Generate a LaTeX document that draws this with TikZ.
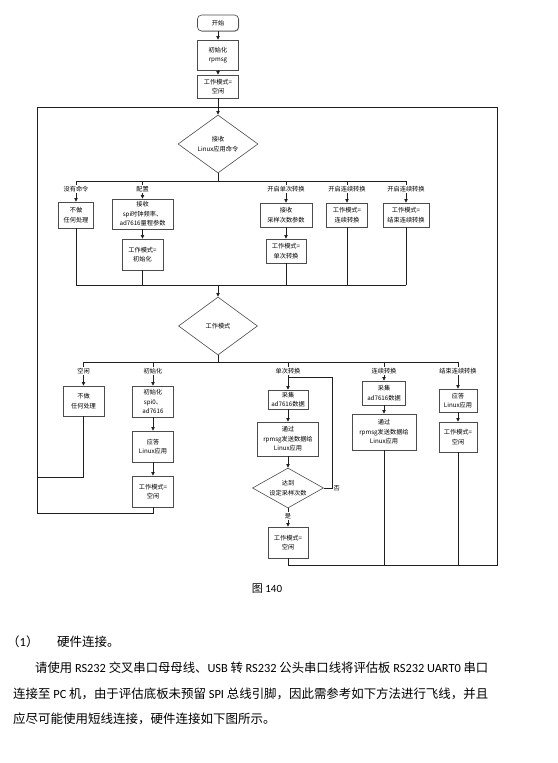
\documentclass[tikz,border=0pt]{standalone}
\usepackage{fontspec}
\usepackage{graphicx}
\newfontfamily\cjk{Noto Sans CJK SC}
\newfontfamily\lat{Carlito}
\usetikzlibrary{shapes.geometric,arrows.meta,shadows}
\begin{document}
\begin{tikzpicture}[x=1pt,y=-1pt,
  every node/.style={font=\cjk\fontsize{6.2}{9.6}\selectfont, align=center, inner sep=0pt},
  box/.style={draw=black!70, line width=0.6pt, fill=white,
    drop shadow={shadow xshift=0.6pt,shadow yshift=-0.6pt,fill=black!45,opacity=1}},
  dia/.style={diamond, draw=black!70, line width=0.6pt, fill=white, inner sep=0pt},
  lbl/.style={fill=white, inner sep=0.8pt},
  conn/.style={draw=black!88, line width=0.7pt},
  arr/.style={conn, -{Triangle[length=3.6pt,width=3.4pt]}},
  para/.style={font=\cjk\fontsize{12.5}{15}\selectfont, anchor=base west, inner sep=0pt},
]
\useasboundingbox[fill=white] (0,0) rectangle (557,763);

% ---------- top ----------
\node[box, minimum width=41pt, minimum height=16pt, rounded corners=4pt] (start) at (218,23) {开始};
\node[box, minimum width=41pt, minimum height=30pt] (init) at (218,55) {初始化\\rpmsg};
\node[box, minimum width=41pt, minimum height=23pt] (idle0) at (218,86.5) {工作模式=\\空闲};
\node[dia, minimum width=80pt, minimum height=58pt, aspect=1.38] (d1) at (218,144) {接收\\Linux应用命令};

% ---------- row 1 ----------
\node[box, minimum width=35pt, minimum height=26pt] (n1a) at (76,215) {不做\\任何处理};
\node[box, minimum width=61pt, minimum height=30pt] (n1b) at (142.5,214) {接收\\spi时钟频率、\\ad7616量程参数};
\node[box, minimum width=41pt, minimum height=31pt] (n1b2) at (142.5,254.5) {工作模式=\\初始化};
\node[box, minimum width=52pt, minimum height=24pt] (n1c) at (286,215) {接收\\采样次数参数};
\node[box, minimum width=40pt, minimum height=24pt] (n1c2) at (286,251) {工作模式=\\单次转换};
\node[box, minimum width=41pt, minimum height=24pt] (n1d) at (347,215) {工作模式=\\连续转换};
\node[box, minimum width=46pt, minimum height=24pt] (n1e) at (406,215) {工作模式=\\结束连续转换};

\node[dia, minimum width=79pt, minimum height=58pt, aspect=1.36] (d2) at (218,326) {工作模式};

% ---------- row 2 ----------
\node[box, minimum width=41pt, minimum height=30pt] (m1) at (83.5,401) {不做\\任何处理};
\node[box, minimum width=41pt, minimum height=31pt] (m2) at (153,401.5) {初始化\\spi0、\\ad7616};
\node[box, minimum width=41pt, minimum height=31pt] (m3) at (153,446.5) {应答\\Linux应用};
\node[box, minimum width=41pt, minimum height=31pt] (m4) at (153,491.5) {工作模式=\\空闲};

\node[box, minimum width=40pt, minimum height=19pt] (s1) at (288,399.5) {采集\\ad7616数据};
\node[box, minimum width=61pt, minimum height=34pt] (s2) at (288,439) {通过\\rpmsg发送数据给\\Linux应用};
\node[dia, minimum width=71pt, minimum height=40pt, aspect=1.775] (s3) at (288,488) {达到\\设定采样次数};
\node[box, minimum width=40pt, minimum height=31pt] (s4) at (288,542.5) {工作模式=\\空闲};

\node[box, minimum width=43pt, minimum height=24pt] (c1) at (384,393) {采集\\ad7616数据};
\node[box, minimum width=64pt, minimum height=36pt] (c2) at (384,432) {通过\\rpmsg发送数据给\\Linux应用};

\node[box, minimum width=38pt, minimum height=23pt] (e1) at (458,400.5) {应答\\Linux应用};
\node[box, minimum width=38pt, minimum height=30pt] (e2) at (458,437) {工作模式=\\空闲};

% ---------- coordinates ----------
\coordinate (j1) at (218,181);
\coordinate (lab1) at (0,189);
\coordinate (j2) at (218,285);
\coordinate (j3) at (218,362);
\coordinate (lab2) at (0,371);
\coordinate (nl) at (332,377);
\coordinate (LT) at (37,107);
\coordinate (RT) at (497,107);
\coordinate (LM) at (37,477);
\coordinate (LB) at (37,513);
\coordinate (RB) at (497,565);

% ---------- connectors ----------
\draw[arr] (start) -- (init);
\draw[arr] (init) -- (idle0);
\draw[arr] (idle0) -- (d1);

\draw[conn] (d1.south) -- (j1);
\draw[conn] (n1a |- j1) -- (n1e |- j1);
\foreach \b in {n1a,n1b,n1c,n1d,n1e} { \draw[arr] (\b |- j1) -- (\b.north); }
\draw[arr] (n1b) -- (n1b2);
\draw[arr] (n1c) -- (n1c2);

\draw[conn] (n1a |- j2) -- (n1e |- j2);
\foreach \b in {n1a,n1b2,n1c2,n1d,n1e} { \draw[conn] (\b.south) -- (\b |- j2); }
\draw[arr] (j2) -- (d2.north);

\draw[conn] (d2.south) -- (j3);
\draw[conn] (m1 |- j3) -- (e1 |- j3);
\foreach \b in {m1,m2,s1,c1,e1} { \draw[arr] (\b |- j3) -- (\b.north); }
\draw[arr] (m2) -- (m3);
\draw[arr] (m3) -- (m4);
\draw[arr] (s1) -- (s2);
\draw[arr] (s2) -- (s3);
\draw[arr] (s3) -- (s4);
\draw[arr] (c1) -- (c2);
\draw[arr] (e1) -- (e2);

\draw[conn] (s3.east) -| (nl) -- (s1 |- nl);

\draw[conn] (m1.south) |- (LM);
\draw[conn] (m4.south) |- (LB) -- (LT) -- (RT) -- (RB) -- (s4.south |- RB) -- (s4.south);
\draw[conn] (c2.south) -- (c2.south |- RB);
\draw[conn] (e2.south) -- (e2.south |- RB);

% ---------- labels ----------
\node[lbl] at (n1a |- lab1) {没有命令};
\node[lbl] at (n1b |- lab1) {配置};
\node[lbl] at (n1c |- lab1) {开启单次转换};
\node[lbl] at (n1d |- lab1) {开启连续转换};
\node[lbl] at (n1e |- lab1) {开启连续转换};

\node[lbl] at (m1 |- lab2) {空闲};
\node[lbl] at (m2 |- lab2) {初始化};
\node[lbl] at (s1 |- lab2) {单次转换};
\node[lbl] at (c1 |- lab2) {连续转换};
\node[lbl] at (e1 |- lab2) {结束连续转换};

\node[lbl, anchor=west] at (332.5,488) {否};
\node[lbl] at (288,516) {是};

% ---------- caption and text ----------
\node[font=\cjk\fontsize{11}{13}\selectfont] (cap) at (267,589) {图 {\lat 140}};

\node[para] (p1a) at (7,646) {（{\lat 1}）};
\node[para] (p1b) at (57,646) {硬件连接。};
\node[para] (p2) at (35,672) {\resizebox{453pt}{\height}{请使用 {\lat RS232} 交叉串口母母线、{\lat USB} 转 {\lat RS232} 公头串口线将评估板 {\lat RS232 UART0} 串口}};
\node[para] (p3) at (13,698) {\resizebox{475pt}{\height}{连接至 {\lat PC} 机，由于评估底板未预留 {\lat SPI} 总线引脚，因此需参考如下方法进行飞线，并且}};
\node[para] (p4) at (13,723) {应尽可能使用短线连接，硬件连接如下图所示。};
\end{tikzpicture}
\end{document}
